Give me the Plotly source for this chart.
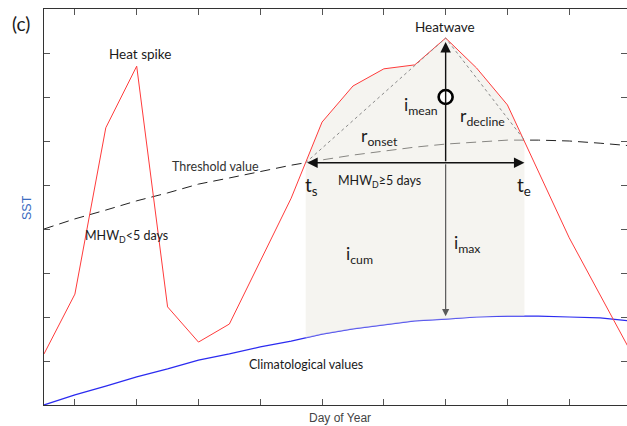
import numpy as np
import plotly.graph_objects as go

# Day index (one point per day)
days = list(range(20))

# Sea surface temperature (arbitrary units)
sst = [1.16, 2.52, 6.30, 7.70, 2.23, 1.43, 1.84, 3.27, 4.70, 6.43,
       7.25, 7.64, 7.73, 8.34, 7.66, 6.82, 5.30, 3.80, 2.50, 1.20]

# Seasonal threshold (90th percentile)
threshold = [4.00, 4.23, 4.43, 4.64, 4.82, 5.02, 5.16, 5.30, 5.45, 5.57,
             5.68, 5.77, 5.86, 5.93, 5.98, 6.02, 6.02, 6.00, 5.95, 5.89]

# Climatological mean
climatology = [0.00, 0.23, 0.43, 0.64, 0.82, 1.02, 1.16, 1.32, 1.45, 1.61,
               1.73, 1.82, 1.91, 1.95, 2.00, 2.02, 2.02, 2.00, 1.98, 1.91]

# Heatwave event: start, end, peak day and mean intensity level
t_start = 8.47
t_end = 15.55
t_peak = 13
i_mean_level = 7.0

x_ticks = [1, 3, 5, 7, 9, 11, 13, 15, 17]
y_ticks = [1, 2, 3, 4, 5, 6, 7, 8]

LABEL_FONT = "Lato"
AXIS_FONT = "Liberation Sans"

W, H = 627, 426
MARGIN = dict(l=44, r=0, t=9, b=21)

thr_start = float(np.interp(t_start, days, threshold))
thr_end = float(np.interp(t_end, days, threshold))
sst_peak = sst[t_peak]

# Area of the event between SST and climatology
inside = [d for d in days if t_start < d < t_end]
fill_x = [t_start] + inside + [t_end]
fill_top = [float(np.interp(d, days, sst)) for d in fill_x]
fill_bot = [float(np.interp(d, days, climatology)) for d in fill_x]
poly_x = fill_x + fill_x[::-1]
poly_y = fill_top + fill_bot[::-1]

fig = go.Figure()

fig.add_trace(go.Scatter(x=days, y=threshold, mode="lines",
                         line=dict(color="#222222", width=1, dash="10px,6px"),
                         hoverinfo="skip"))
fig.add_trace(go.Scatter(x=days, y=climatology, mode="lines",
                         line=dict(color="#2b2bf0", width=1.2),
                         hoverinfo="skip"))
fig.add_trace(go.Scatter(x=poly_x, y=poly_y, mode="lines", fill="toself",
                         fillcolor="rgba(236,233,225,0.5)",
                         line=dict(width=0), hoverinfo="skip"))
fig.add_trace(go.Scatter(x=days, y=sst, mode="lines",
                         line=dict(color="#ff3b3b", width=1),
                         hoverinfo="skip"))
# Onset and decline rates
fig.add_trace(go.Scatter(x=[t_start, t_peak, t_end],
                         y=[thr_start, sst_peak, thr_end], mode="lines",
                         line=dict(color="#8a8a8a", width=1, dash="dot"),
                         hoverinfo="skip"))
# Mean intensity marker
fig.add_trace(go.Scatter(x=[t_peak], y=[i_mean_level], mode="markers",
                         marker=dict(size=14, color="white",
                                     line=dict(color="black", width=2.6)),
                         hoverinfo="skip"))
# Right-hand tick marks
fig.add_trace(go.Scatter(x=[None], y=[None], yaxis="y2", showlegend=False))

annotations = []
# Vertical arrows (maximum intensity)
annotations.append(dict(x=t_peak, y=sst_peak, ax=t_peak, ay=thr_start,
                        xref="x", yref="y", axref="x", ayref="y",
                        text="", showarrow=True, arrowhead=2, arrowsize=1.5,
                        arrowwidth=1.4, arrowcolor="#111111", standoff=4))
annotations.append(dict(x=t_peak, y=climatology[t_peak], ax=t_peak, ay=thr_start,
                        xref="x", yref="y", axref="x", ayref="y",
                        text="", showarrow=True, arrowhead=2, arrowsize=1.2,
                        arrowwidth=1.2, arrowcolor="#5a5a5a", standoff=3))
# Duration arrow
annotations.append(dict(x=t_end, y=thr_start, ax=t_start, ay=thr_start,
                        xref="x", yref="y", axref="x", ayref="y",
                        text="", showarrow=True, arrowhead=2, arrowside="end+start",
                        arrowsize=1.5, arrowwidth=1.4, arrowcolor="#111111"))

plot_w = W - MARGIN["l"] - MARGIN["r"]
plot_h = H - MARGIN["t"] - MARGIN["b"]


def px(xp, yp):
    """Pixel position on the page -> paper coordinates of the plot area."""
    return (xp - MARGIN["l"]) / plot_w, (H - MARGIN["b"] - yp) / plot_h


def label(text, xp, yp, size=13, color="#1a1a1a", font=LABEL_FONT, angle=0):
    x, y = px(xp, yp)
    annotations.append(dict(text=text, x=x, y=y, xref="paper", yref="paper",
                            showarrow=False, xanchor="center", yanchor="middle",
                            textangle=angle,
                            font=dict(family=font, size=size, color=color)))


label("(c)", 21, 24, size=19)
label("Heat spike", 140, 54, size=13.5)
label("Heatwave", 445, 27, size=13.5)
label("i<sub>mean</sub>", 421, 106, size=17.5)
label("r<sub>decline</sub>", 482, 117, size=17.5)
label("r<sub>onset</sub>", 379, 137, size=17.5)
label("Threshold value", 215, 166, size=12.5, color="#333333")
label("t<sub>s</sub>", 311, 186, size=19)
label("t<sub>e</sub>", 524, 186, size=19)
label("MHW<sub>D</sub>≥5 days", 379, 181, size=12.5)
label("MHW<sub>D</sub><5 days", 126, 237, size=12.5)
label("i<sub>cum</sub>", 359, 255, size=17.5)
label("i<sub>max</sub>", 467, 244, size=17.5)
label("Climatological values", 306, 364, size=12.5)
label("SST", 27, 208, size=12.5, color="#3b6cc0", font=AXIS_FONT, angle=-90)
label("Day of Year", 340, 418, size=12, color="#444444", font=AXIS_FONT)

axis_common = dict(showgrid=False, zeroline=False, showticklabels=False,
                   ticks="inside", ticklen=6, tickwidth=1, tickcolor="#555555")

fig.update_layout(
    width=W, height=H,
    margin=MARGIN,
    paper_bgcolor="white", plot_bgcolor="white",
    showlegend=False,
    annotations=annotations,
    xaxis=dict(range=[0, 18.87], tickvals=x_ticks, showline=True,
               linecolor="#333333", linewidth=1.2, mirror="ticks", **axis_common),
    yaxis=dict(range=[0, 9], tickvals=y_ticks, showline=True,
               linecolor="#333333", linewidth=1.2, **axis_common),
    yaxis2=dict(range=[0, 9], tickvals=y_ticks, overlaying="y", side="right",
                showline=False, anchor="x", **axis_common),
)

fig.write_html("out.html")
